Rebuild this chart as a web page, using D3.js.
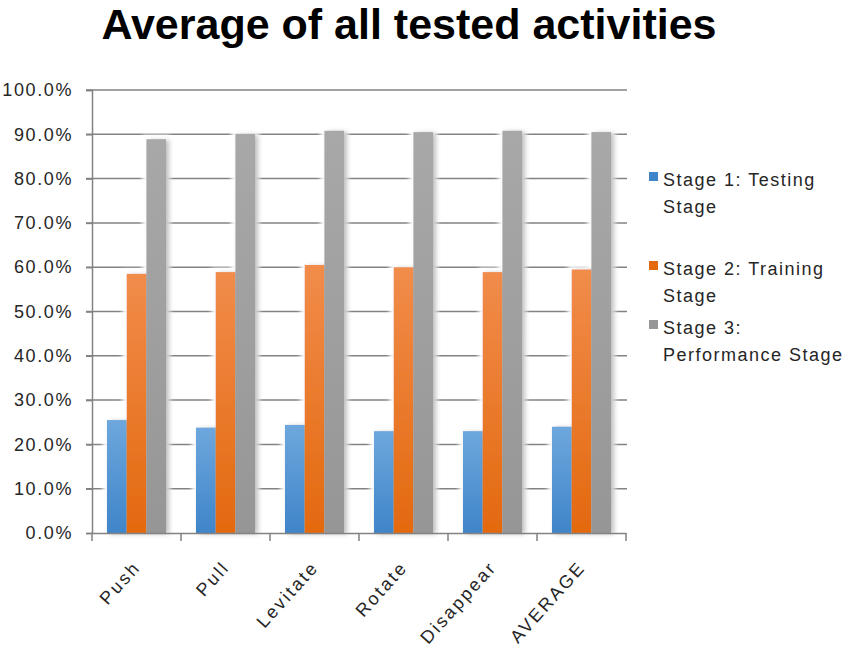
<!DOCTYPE html>
<html><head><meta charset="utf-8">
<script src="https://cdn.jsdelivr.net/npm/d3@7"></script>
<style>body{margin:0;background:#fff}svg{display:block}text{font-family:"Liberation Sans",Arial,sans-serif}</style>
</head><body>
<svg id="c" width="847" height="650"></svg>
<script>
const categories = ["Push","Pull","Levitate","Rotate","Disappear","AVERAGE"];
const seriesNames = [["Stage 1: Testing","Stage"],["Stage 2: Training","Stage"],["Stage 3:","Performance Stage"]];
const stage1 = [0.255,0.238,0.244,0.230,0.230,0.240];
const stage2 = [0.585,0.589,0.605,0.600,0.589,0.595];
const stage3 = [0.889,0.901,0.908,0.905,0.908,0.905];
const yTicks = [0,0.1,0.2,0.3,0.4,0.5,0.6,0.7,0.8,0.9,1.0];
const titleText = "Average of all tested activities";

(function(){
const series = [stage1, stage2, stage3];
const svg = d3.select("#c");
const defs = svg.append("defs");
const grads = [["#6ea7dd","#3f85c9"],["#f18c4b","#e3690f"],["#a8a8a8","#969696"]];
grads.forEach((g,i)=>{
  const lg = defs.append("linearGradient").attr("id","g"+i).attr("x1",0).attr("y1",0).attr("x2",0).attr("y2",1);
  lg.append("stop").attr("offset","0%").attr("stop-color",g[0]);
  lg.append("stop").attr("offset","100%").attr("stop-color",g[1]);
});
const f = defs.append("filter").attr("id","sh").attr("x","-40%").attr("y","-10%").attr("width","180%").attr("height","120%");
f.append("feMorphology").attr("in","SourceAlpha").attr("operator","dilate").attr("radius",4).attr("result","d");
f.append("feGaussianBlur").attr("in","d").attr("stdDeviation",2).attr("result","db");
f.append("feFlood").attr("flood-color","#fff").attr("flood-opacity",1).attr("result","w");
f.append("feComposite").attr("in","w").attr("in2","db").attr("operator","in").attr("result","glow");
f.append("feGaussianBlur").attr("in","SourceAlpha").attr("stdDeviation",2.5).attr("result","b");
f.append("feOffset").attr("in","b").attr("dx",3).attr("dy",1).attr("result","ob");
f.append("feFlood").attr("flood-color","#000").attr("flood-opacity",0.5).attr("result","k");
f.append("feComposite").attr("in","k").attr("in2","ob").attr("operator","in").attr("result","shadow");
const m = f.append("feMerge");
m.append("feMergeNode").attr("in","glow");
m.append("feMergeNode").attr("in","shadow");
m.append("feMergeNode").attr("in","SourceGraphic");

const pL = 92, pR = 626, pT = 90, pB = 533;
const y = d3.scaleLinear().domain([0,1]).range([pB, pT]);
const x0 = d3.scaleBand().domain(categories).range([pL, pR]).padding(0);
const inset = x0.bandwidth()*0.168;
const x1 = d3.scaleBand().domain([0,1,2]).range([inset, x0.bandwidth()-inset]).padding(0);

svg.append("text").attr("x",409).attr("y",39).attr("text-anchor","middle")
  .attr("font-size",43).attr("font-weight","bold").attr("fill","#000").text(titleText);

svg.append("g").selectAll("line").data(yTicks.slice(1)).join("line")
  .attr("x1",pL-6).attr("x2",pR+1).attr("y1",d=>y(d)).attr("y2",d=>y(d))
  .attr("stroke","#828282").attr("stroke-width",1.5);

const groups = svg.append("g").selectAll("g").data(categories).join("g")
  .attr("transform",d=>`translate(${x0(d)},0)`).attr("filter","url(#sh)");
groups.selectAll("rect").data((c,ci)=>series.map((s,si)=>({si,v:s[ci]}))).join("rect")
  .attr("x",d=>x1(d.si)).attr("width",x1.bandwidth())
  .attr("y",d=>y(d.v)).attr("height",d=>y(0)-y(d.v))
  .attr("fill",d=>`url(#g${d.si})`);

const ya = d3.axisLeft(y).tickValues(yTicks).tickSize(6).tickPadding(14).tickFormat(d3.format(".1%"));
const yg = svg.append("g").attr("transform",`translate(${pL},0)`).call(ya);
yg.select(".domain").attr("stroke","#828282").attr("stroke-width",1.5);
yg.selectAll(".tick line").attr("stroke","#828282").attr("stroke-width",1.5);
yg.selectAll(".tick text").attr("font-size",18).attr("letter-spacing",1.6).attr("fill","#262626")
  .attr("font-family","'Liberation Sans',Arial,sans-serif").attr("x",-19);

const xa = d3.axisBottom(x0).tickSize(0).tickFormat("");
const xg = svg.append("g").attr("transform",`translate(0,${pB})`).call(xa);
xg.select(".domain").attr("stroke","#828282").attr("stroke-width",1.5);
const xt = d3.range(categories.length+1).map(i=>pL+i*x0.bandwidth());
svg.append("g").selectAll("line").data(xt).join("line")
  .attr("x1",d=>d).attr("x2",d=>d).attr("y1",pB).attr("y2",pB+8)
  .attr("stroke","#828282").attr("stroke-width",1.5);
svg.append("g").selectAll("text").data(categories).join("text")
  .attr("transform",d=>`translate(${x0(d)+x0.bandwidth()/2+5},${pB+35}) rotate(-48)`)
  .attr("text-anchor","end").attr("font-size",18).attr("letter-spacing",2.4).attr("fill","#262626")
  .text(d=>d);

const legY = [180, 269, 328];
const leg = svg.append("g").selectAll("g").data(seriesNames).join("g")
  .attr("transform",(d,i)=>`translate(649,${legY[i]})`);
leg.append("rect").attr("x",0).attr("y",-8).attr("width",9).attr("height",9)
  .attr("fill",(d,i)=>grads[i][1]);
leg.append("text").attr("x",14).attr("y",6).attr("font-size",18).attr("letter-spacing",1.5).attr("fill","#262626")
  .selectAll("tspan").data(d=>d).join("tspan").attr("x",14).attr("dy",(d,i)=>i?27:0).text(d=>d);
})();
</script>
</body></html>
